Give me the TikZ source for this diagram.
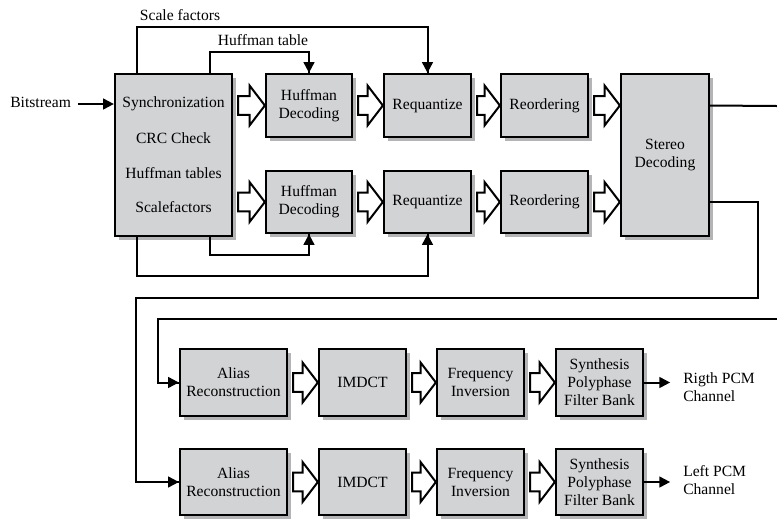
\documentclass[tikz,border=0pt]{standalone}
\usepackage{fontspec}
\setmainfont{Liberation Serif}
\usetikzlibrary{calc,shadows,arrows.meta}
\definecolor{boxfill}{RGB}{210,211,213}
\definecolor{shadowgray}{RGB}{180,180,183}
\tikzset{
  blk/.style={draw=black, line width=1.7pt, fill=boxfill, align=center, inner sep=0pt,
    font=\fontsize{11.7}{13.5}\selectfont,
    drop shadow={shadow xshift=3pt, shadow yshift=-3pt, fill=shadowgray, opacity=1}},
  txt/.style={inner sep=0pt, align=left, font=\fontsize{11.7}{13.5}\selectfont},
  conn/.style={line width=1.5pt, draw=black},
  arr/.style={conn, -{Triangle[length=8pt,width=8pt]}},
  hol/.style={draw=black, line width=1.5pt, fill=white, line join=miter}
}
\newcommand\bx[6]{\node[blk, minimum width={(#4-#2)*0.75pt}, minimum height={(#5-#3)*0.75pt}]
  (#1) at ({(#2+#4)/2},{(#3+#5)/2}) {#6};}
\newcommand\hollow[2]{\draw[hol] let \p1=($(#1)+(3.8pt,0)$), \p2=(#2) in
  (\x1,\y2+7pt) -- (\x2-11.5pt,\y2+7pt) -- (\x2-11.5pt,\y2+15pt) -- (\x2,\y2)
  -- (\x2-11.5pt,\y2-15pt) -- (\x2-11.5pt,\y2-7pt) -- (\x1,\y2-7pt) -- cycle;}
\begin{document}
\begin{tikzpicture}[x=0.75pt,y=-0.75pt]
\useasboundingbox (0,0) rectangle (777,519);
% upper row
\bx{sync}{115}{74}{232}{236}{}
\node[txt] (t1) at (173.5,104) {Synchronization};
\node[txt] (t2) at (173.5,138.5) {CRC Check};
\node[txt] (t3) at (173.5,173) {Huffman tables};
\node[txt] (t4) at (173.5,207.5) {Scalefactors};
\bx{hd1}{266}{74}{352}{137}{Huffman\\Decoding}
\bx{hd2}{266}{171}{352}{233}{Huffman\\Decoding}
\bx{rq1}{384}{74}{471}{137}{Requantize}
\bx{rq2}{384}{171}{471}{233}{Requantize}
\bx{ro1}{501}{74}{588}{137}{Reordering}
\bx{ro2}{501}{171}{588}{233}{Reordering}
\bx{st}{621}{74}{709}{236}{Stereo\\Decoding}
% lower rows
\bx{al1}{180}{349}{287}{416}{Alias\\Reconstruction}
\bx{al2}{180}{449}{287}{515}{Alias\\Reconstruction}
\bx{im1}{319}{349}{406}{416}{IMDCT}
\bx{im2}{319}{449}{406}{515}{IMDCT}
\bx{fi1}{437}{349}{524}{416}{Frequency\\Inversion}
\bx{fi2}{437}{449}{524}{515}{Frequency\\Inversion}
\bx{sy1}{556}{349}{643}{416}{Synthesis\\Polyphase\\Filter Bank}
\bx{sy2}{556}{449}{643}{515}{Synthesis\\Polyphase\\Filter Bank}
% labels
\node[txt, anchor=west] (bs) at (10,102) {Bitstream};
\node[txt] (lsf) at (180,15) {Scale factors};
\node[txt] (lht) at (263,40) {Huffman table};
\node[txt, anchor=west] (outr) at (683,387) {Rigth PCM\\Channel};
\node[txt, anchor=west] (outl) at (683,480) {Left PCM\\Channel};
% coordinates
\coordinate (sfc) at (137,27);
\coordinate (htc) at (210,52);
\coordinate (hbc) at (210,255);
\coordinate (sbc) at (137,276);
\coordinate (edgeA) at (777,106);
\coordinate (edgeB) at (777,319);
\coordinate (rc) at (158,319);
\coordinate (lc1) at (758,202);
\coordinate (lc2) at (758,298);
\coordinate (lc3) at (136,298);
% thin connectors
\draw[arr] ([xshift=5pt]bs.east |- t1) -- (sync.west |- t1);
\draw[conn] (sync.north -| sfc) -- (sfc) -| (rq1.north);
\draw[arr] (rq1.north |- sfc) -- (rq1.north);
\draw[conn] (sync.north -| htc) -- (htc) -| (hd1.north);
\draw[arr] (hd1.north |- htc) -- (hd1.north);
\draw[conn] (sync.south -| hbc) -- (hbc) -| (hd2.south);
\draw[arr] (hd2.south |- hbc) -- (hd2.south);
\draw[conn] (sync.south -| sbc) -- (sbc) -| (rq2.south);
\draw[arr] (rq2.south |- sbc) -- (rq2.south);
\draw[conn] (st.east |- ro1) -- (edgeA);
\draw[conn] (edgeB) -- (rc) |- (al1.west);
\draw[arr] (rc |- al1.west) -- (al1.west);
\draw[conn] (st.east |- ro2) -- (lc1) -- (lc2) -- (lc3) |- (al2.west);
\draw[arr] (lc3 |- al2.west) -- (al2.west);
\draw[arr] (sy1.east) -- ++(26,0);
\draw[arr] (sy2.east) -- ++(26,0);
% hollow arrows
\hollow{sync.east |- hd1.west}{hd1.west}
\hollow{sync.east |- hd2.west}{hd2.west}
\hollow{hd1.east}{rq1.west}
\hollow{hd2.east}{rq2.west}
\hollow{rq1.east}{ro1.west}
\hollow{rq2.east}{ro2.west}
\hollow{ro1.east}{st.west |- ro1.east}
\hollow{ro2.east}{st.west |- ro2.east}
\hollow{al1.east}{im1.west}
\hollow{al2.east}{im2.west}
\hollow{im1.east}{fi1.west}
\hollow{im2.east}{fi2.west}
\hollow{fi1.east}{sy1.west}
\hollow{fi2.east}{sy2.west}
\end{tikzpicture}
\end{document}
